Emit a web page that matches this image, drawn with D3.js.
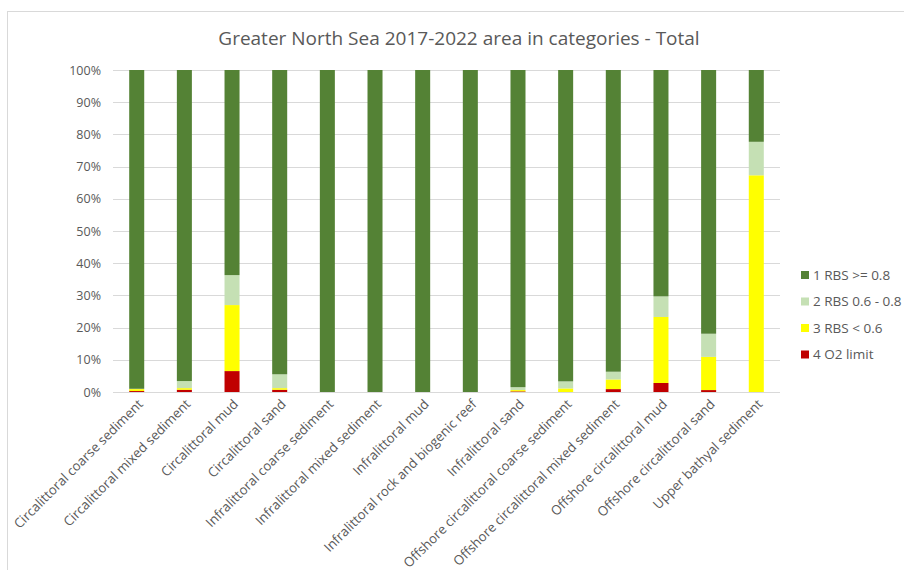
<!DOCTYPE html>
<html>
<head>
<meta charset="utf-8">
<script src="https://cdn.jsdelivr.net/npm/d3@7"></script>
<style>
  body { margin: 0; background: #fff; }
  text { font-family: "Open Sans", "Liberation Sans", sans-serif; fill: #595959; }
</style>
</head>
<body>
<div id="chart"></div>
<script>
var categories = ["Circalittoral coarse sediment", "Circalittoral mixed sediment", "Circalittoral mud",
  "Circalittoral sand", "Infralittoral coarse sediment", "Infralittoral mixed sediment", "Infralittoral mud",
  "Infralittoral rock and biogenic reef", "Infralittoral sand", "Offshore circalittoral coarse sediment",
  "Offshore circalittoral mixed sediment", "Offshore circalittoral mud", "Offshore circalittoral sand",
  "Upper bathyal sediment"];

var seriesNames = ["1 RBS >= 0.8", "2 RBS 0.6 - 0.8", "3 RBS < 0.6", "4 O2 limit"];

// percentages
var o2limit  = [0.3, 0.7, 6.5, 0.7, 0, 0, 0, 0, 0.2, 0, 0.9, 2.8, 0.6, 0];
var rbsLow   = [0.6, 0.5, 20.5, 0.5, 0, 0, 0, 0, 0.4, 1.1, 3.0, 20.5, 10.3, 67.3];
var rbsMid   = [0.1, 2.2, 9.3, 4.3, 0, 0, 0, 0, 0.9, 2.2, 2.4, 6.4, 7.2, 10.4];
var rbsHigh  = [99.0, 96.6, 63.7, 94.5, 100, 100, 100, 100, 98.5, 96.7, 93.7, 70.3, 81.9, 22.3];

var yTicks = [0, 10, 20, 30, 40, 50, 60, 70, 80, 90, 100];
var colors = ["#548235", "#C5E0B4", "#FFFF00", "#C00000"];

var width = 904, height = 570;
var margin = {left: 113, right: 124, top: 70, bottom: 178};

var svg = d3.select("#chart").append("svg")
  .attr("width", width)
  .attr("height", height);

// chart border
svg.append("rect")
  .attr("x", 7.5).attr("y", 11.5)
  .attr("width", 1000).attr("height", 1000)
  .attr("fill", "none")
  .attr("stroke", "#d9d9d9");

svg.append("text")
  .attr("x", 459)
  .attr("y", 45)
  .attr("text-anchor", "middle")
  .style("font-size", "19px")
  .text("Greater North Sea 2017-2022 area in categories - Total");

var x = d3.scaleBand()
  .domain(categories)
  .range([margin.left, width - margin.right])
  .paddingInner(0.685)
  .paddingOuter(0.34);

var y = d3.scaleLinear()
  .domain([0, 100])
  .range([height - margin.bottom, margin.top]);

// gridlines
svg.append("g")
  .selectAll("line")
  .data(yTicks)
  .enter().append("line")
  .attr("x1", margin.left)
  .attr("x2", width - margin.right)
  .attr("y1", function(d) { return Math.round(y(d)) + 0.5; })
  .attr("y2", function(d) { return Math.round(y(d)) + 0.5; })
  .attr("stroke", "#d9d9d9")
  .attr("stroke-width", 1);

var yAxis = d3.axisLeft(y)
  .tickValues(yTicks)
  .tickSize(0)
  .tickPadding(12)
  .tickFormat(function(d) { return d + "%"; });

svg.append("g")
  .attr("transform", "translate(" + margin.left + ",0)")
  .call(yAxis)
  .call(function(g) { g.select(".domain").remove(); })
  .selectAll("text")
  .style("font-size", "12.5px")
  .style("font-family", "'Open Sans', sans-serif")
  .attr("fill", "#595959");

// stacked data: bottom series first
var rows = categories.map(function(c, i) {
  return {cat: c, s0: rbsHigh[i], s1: rbsMid[i], s2: rbsLow[i], s3: o2limit[i]};
});
var stack = d3.stack().keys(["s3", "s2", "s1", "s0"]);
var stacked = stack(rows);
var keyColor = {s0: colors[0], s1: colors[1], s2: colors[2], s3: colors[3]};

svg.append("g")
  .selectAll("g")
  .data(stacked)
  .enter().append("g")
  .attr("fill", function(d) { return keyColor[d.key]; })
  .selectAll("rect")
  .data(function(d) { return d; })
  .enter().append("rect")
  .attr("x", function(d) { return x(d.data.cat); })
  .attr("width", x.bandwidth())
  .attr("y", function(d) { return y(d[1]); })
  .attr("height", function(d) { return y(d[0]) - y(d[1]); });

// x axis
var xAxis = d3.axisBottom(x).tickSize(0).tickPadding(0);
var gx = svg.append("g")
  .attr("transform", "translate(0," + y(0) + ")")
  .call(xAxis);
gx.select(".domain").remove();
gx.selectAll("text")
  .style("font-size", "13.2px")
  .style("font-family", "'Open Sans', sans-serif")
  .attr("fill", "#595959")
  .attr("text-anchor", "end")
  .attr("dy", "0")
  .attr("transform", "translate(7,13) rotate(-45)");

// legend
var legend = svg.append("g")
  .selectAll("g")
  .data(seriesNames)
  .enter().append("g")
  .attr("transform", function(d, i) { return "translate(805," + (275 + i * 26.5) + ")"; });

legend.append("rect")
  .attr("x", -4).attr("y", -4)
  .attr("width", 8).attr("height", 8)
  .attr("fill", function(d, i) { return colors[i]; });

legend.append("text")
  .attr("x", 8)
  .attr("dy", "0.35em")
  .style("font-size", "13.5px")
  .text(function(d) { return d; });
</script>
</body>
</html>
